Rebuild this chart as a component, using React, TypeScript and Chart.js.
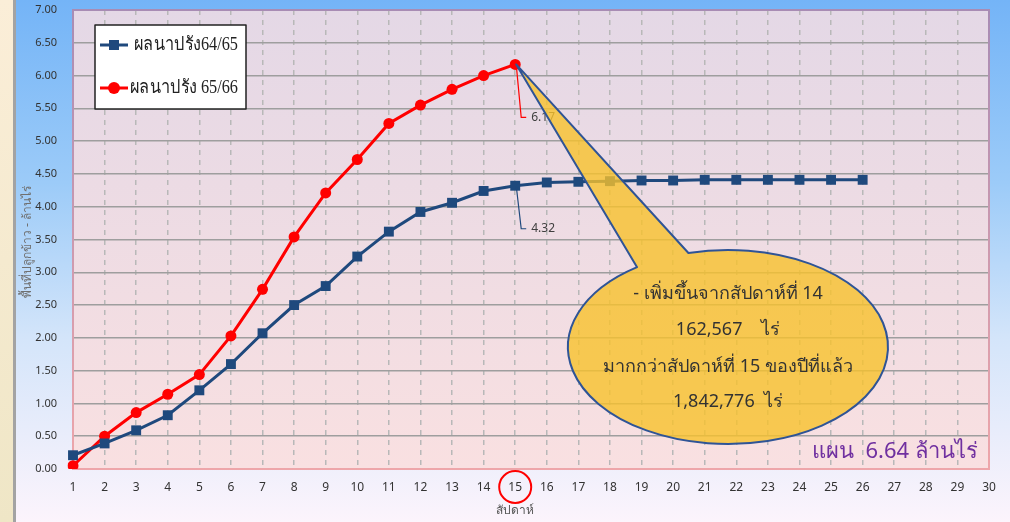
import React, { useEffect, useRef } from 'react';
import { Chart, registerables } from 'chart.js';

Chart.register(...registerables);

const weeks = ['1', '2', '3', '4', '5', '6', '7', '8', '9', '10', '11', '12', '13', '14', '15', '16', '17', '18', '19', '20', '21', '22', '23', '24', '25', '26', '27', '28', '29', '30'];
const series6465 = [0.21, 0.39, 0.59, 0.82, 1.2, 1.6, 2.07, 2.5, 2.79, 3.24, 3.62, 3.92, 4.06, 4.24, 4.32, 4.37, 4.38, 4.39, 4.4, 4.4, 4.41, 4.41, 4.41, 4.41, 4.41, 4.41];
const series6566 = [0.05, 0.5, 0.86, 1.14, 1.44, 2.03, 2.74, 3.54, 4.21, 4.72, 5.27, 5.55, 5.79, 6.0, 6.17];
const seriesLabels = ['ผลนาปรัง64/65', 'ผลนาปรัง 65/66'];
const calloutLines = ['- เพิ่มขึ้นจากสัปดาห์ที่ 14', '162,567    ไร่', 'มากกว่าสัปดาห์ที่ 15 ของปีที่แล้ว', '1,842,776  ไร่'];
const planText = 'แผน  6.64 ล้านไร่';
const yTitle = 'พื้นที่ปลูกข้าว - ล้านไร่';
const xTitle = 'สัปดาห์';
const highlightIndex = 14;

const BLUE = '#1F497D';
const RED = '#FF0000';
const SANS = "'Noto Sans', 'Open Sans', sans-serif";

const decorPlugin = {
  id: 'decor',
  beforeDraw(chart: any) {
    const { ctx, width, height, chartArea: a } = chart;
    ctx.save();
    const g = ctx.createLinearGradient(0, 0, 0, height);
    g.addColorStop(0, '#74b4f7');
    g.addColorStop(0.35, '#9ccbf8');
    g.addColorStop(0.65, '#d4e5fa');
    g.addColorStop(1, '#fcf4fc');
    ctx.fillStyle = g;
    ctx.fillRect(0, 0, width, height);
    const c = ctx.createLinearGradient(0, 0, 0, height);
    c.addColorStop(0, '#fbeed8');
    c.addColorStop(1, '#efe6c6');
    ctx.fillStyle = c;
    ctx.fillRect(0, 0, 13, height);
    ctx.fillStyle = '#a3a3a3';
    ctx.fillRect(13, 0, 3, height);
    const p = ctx.createLinearGradient(0, a.top, 0, a.bottom);
    p.addColorStop(0, '#e4d8e6');
    p.addColorStop(1, '#f9e0e1');
    ctx.fillStyle = p;
    ctx.fillRect(a.left, a.top, a.right - a.left, a.bottom - a.top);
    ctx.restore();
  },
  beforeDatasetsDraw(chart: any) {
    const { ctx, chartArea: a } = chart;
    ctx.save();
    const b = ctx.createLinearGradient(0, a.top, 0, a.bottom);
    b.addColorStop(0, '#a88cb4');
    b.addColorStop(1, '#eea6aa');
    ctx.strokeStyle = b;
    ctx.lineWidth = 2;
    ctx.strokeRect(a.left, a.top, a.right - a.left, a.bottom - a.top);
    ctx.restore();
  },
  afterDraw(chart: any) {
    const { ctx } = chart;
    const xs = chart.scales.x;
    ctx.save();

    // axis titles
    ctx.fillStyle = '#707070';
    ctx.font = `12px ${SANS}`;
    ctx.textAlign = 'center';
    ctx.textBaseline = 'middle';
    ctx.save();
    ctx.translate(28, 242);
    ctx.rotate(-Math.PI / 2);
    ctx.fillText(yTitle, 0, 0);
    ctx.restore();
    const hx = xs.getPixelForValue(highlightIndex);
    ctx.fillStyle = '#555';
    ctx.fillText(xTitle, hx, 511);

    // red circle around highlighted tick
    ctx.strokeStyle = RED;
    ctx.lineWidth = 2;
    ctx.beginPath();
    ctx.arc(hx, 487, 16, 0, Math.PI * 2);
    ctx.stroke();

    // leader labels
    const mRed = chart.getDatasetMeta(1).data[highlightIndex];
    const mBlue = chart.getDatasetMeta(0).data[highlightIndex];
    const leader = (pt: any, val: number, color: string, dy: number) => {
      ctx.strokeStyle = color;
      ctx.lineWidth = 1.2;
      ctx.beginPath();
      ctx.moveTo(pt.x + 1, pt.y);
      ctx.lineTo(pt.x + 6, pt.y + dy);
      ctx.lineTo(pt.x + 11, pt.y + dy);
      ctx.stroke();
      ctx.fillStyle = '#404040';
      ctx.font = `12px ${SANS}`;
      ctx.textAlign = 'left';
      ctx.textBaseline = 'middle';
      ctx.fillText(val.toFixed(2), pt.x + 16, pt.y + dy);
    };
    leader(mRed, series6566[highlightIndex], RED, 53);
    leader(mBlue, series6465[highlightIndex], BLUE, 43);

    // callout
    const cx = 728, cy = 347, rx = 160, ry = 97;
    const tA = Math.atan2((252 - cy) / ry, (688 - cx) / rx);
    const tB = Math.atan2((268 - cy) / ry, (638 - cx) / rx);
    ctx.beginPath();
    ctx.moveTo(mRed.x + 1, mRed.y);
    ctx.lineTo(cx + rx * Math.cos(tA), cy + ry * Math.sin(tA));
    ctx.ellipse(cx, cy, rx, ry, 0, tA, tB, false);
    ctx.closePath();
    ctx.fillStyle = 'rgba(248, 194, 44, 0.8)';
    ctx.fill();
    ctx.strokeStyle = '#2f5496';
    ctx.lineWidth = 2;
    ctx.lineJoin = 'round';
    ctx.stroke();

    ctx.fillStyle = '#333';
    ctx.font = `18px ${SANS}`;
    ctx.textAlign = 'center';
    ctx.textBaseline = 'middle';
    const ly = [294, 330, 367, 402];
    calloutLines.forEach((t, i) => ctx.fillText(t, cx, ly[i]));

    // plan text
    ctx.fillStyle = '#7030a0';
    ctx.font = `22px ${SANS}`;
    ctx.textAlign = 'left';
    ctx.fillText(planText, 812, 452);

    // legend box
    ctx.fillStyle = '#ffffff';
    ctx.fillRect(95, 25, 151, 84);
    ctx.strokeStyle = '#222';
    ctx.lineWidth = 1.5;
    ctx.strokeRect(95, 25, 151, 84);
    const items = [
      { y: 45, color: BLUE, style: 'rect', tx: 134, w: 104 },
      { y: 88, color: RED, style: 'circle', tx: 130, w: 108 },
    ];
    items.forEach((it, i) => {
      ctx.strokeStyle = it.color;
      ctx.lineWidth = 3;
      ctx.beginPath();
      ctx.moveTo(100, it.y);
      ctx.lineTo(128, it.y);
      ctx.stroke();
      ctx.fillStyle = it.color;
      if (it.style === 'rect') {
        ctx.fillRect(109, it.y - 5, 10, 10);
      } else {
        ctx.beginPath();
        ctx.arc(114, it.y, 6, 0, Math.PI * 2);
        ctx.fill();
      }
      ctx.fillStyle = '#222';
      ctx.font = `19px serif`;
      ctx.textAlign = 'left';
      ctx.textBaseline = 'middle';
      ctx.fillText(seriesLabels[i], it.tx, it.y, it.w);
    });

    ctx.restore();
  },
};

export default function App() {
  const ref = useRef<HTMLCanvasElement | null>(null);
  useEffect(() => {
    if (!ref.current) return;
    const chart = new Chart(ref.current, {
      type: 'line',
      data: {
        labels: weeks,
        datasets: [
          {
            label: seriesLabels[0],
            data: series6465,
            borderColor: BLUE,
            backgroundColor: BLUE,
            borderWidth: 3,
            pointStyle: 'rect',
            pointRadius: 7,
            pointBorderWidth: 0,
            tension: 0,
          },
          {
            label: seriesLabels[1],
            data: series6566,
            borderColor: RED,
            backgroundColor: RED,
            borderWidth: 3,
            pointStyle: 'circle',
            pointRadius: 5.5,
            pointBorderWidth: 0,
            tension: 0,
          },
        ],
      },
      options: {
        responsive: false,
        animation: false,
        devicePixelRatio: 1,
        layout: { autoPadding: false, padding: { top: 10, right: 21, left: 0, bottom: 0 } },
        plugins: { legend: { display: false }, title: { display: false }, tooltip: { enabled: false } },
        scales: {
          x: {
            offset: false,
            grid: { color: '#b8b8b8', lineWidth: 1.5, drawTicks: false },
            border: { display: false, dash: [5, 5] },
            ticks: { color: '#333', font: { size: 12, family: SANS }, padding: 11, maxRotation: 0, autoSkip: false },
            afterFit: (s: any) => { s.height = 53; s.paddingLeft = 0; s.paddingRight = 0; },
          },
          y: {
            min: 0,
            max: 7,
            grid: { color: '#9e9e9e', lineWidth: 1.5, drawTicks: false },
            border: { display: false },
            ticks: {
              stepSize: 0.5,
              color: '#333',
              font: { size: 11, family: SANS },
              padding: 16,
              callback: (v: any) => Number(v).toFixed(2),
            },
            afterFit: (s: any) => { s.width = 73; s.paddingTop = 0; s.paddingBottom = 0; },
          },
        },
      },
      plugins: [decorPlugin],
    } as any);
    return () => chart.destroy();
  }, []);
  return (
    <div style={{ position: 'fixed', left: 0, top: 0, width: 1010, height: 522 }}>
      <canvas ref={ref} width={1010} height={522} style={{ width: 1010, height: 522, display: 'block' }} />
    </div>
  );
}
